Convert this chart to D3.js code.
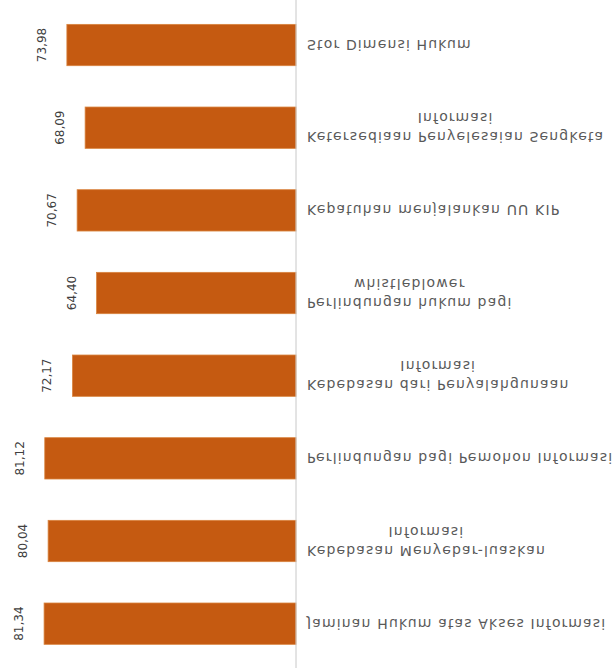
<!DOCTYPE html>
<html>
<head>
<meta charset="utf-8">
<script src="https://cdn.jsdelivr.net/npm/d3@7"></script>
<style>
  html, body { margin: 0; padding: 0; background: #ffffff; }
  svg { display: block; }
</style>
</head>
<body>
<svg id="chart" width="615" height="672"></svg>
<script>
// Categories as they appear from top to bottom (picture is vertically mirrored)
const categories = [
  ["Stor Dimensi Hukum"],
  ["Ketersediaan Penyelesaian Sengketa", "Informasi"],
  ["Kepatuhan menjalankan UU KIP"],
  ["Perlindungan hukum bagi", "whistleblower"],
  ["Kebebasan dari Penyalahgunaan", "Informasi"],
  ["Perlindungan bagi Pemohon Informasi"],
  ["Kebebasan Menyebar-luaskan", "Informasi"],
  ["Jaminan Hukum atas Akses Informasi"]
];
const values = [73.98, 68.09, 70.67, 64.40, 72.17, 81.12, 80.04, 81.34];
const valueLabels = ["73,98", "68,09", "70,67", "64,40", "72,17", "81,12", "80,04", "81,34"];

const svg = d3.select("#chart");
const axisX = 296;

const x = d3.scaleLinear().domain([0, 100]).range([axisX, axisX - 309.7]);
const y = d3.scaleBand().domain(d3.range(categories.length)).range([3.7, 665])
  .paddingInner(0.5).paddingOuter(0.25);

// bars
svg.selectAll("rect.bar")
  .data(values)
  .join("rect")
  .attr("class", "bar")
  .attr("x", d => x(d))
  .attr("y", (d, i) => y(i))
  .attr("width", d => x(0) - x(d))
  .attr("height", y.bandwidth())
  .attr("fill", "#C55A11")
  .attr("stroke", "#d9843f")
  .attr("stroke-width", 0.8);

// axis line
svg.append("line")
  .attr("x1", axisX).attr("x2", axisX)
  .attr("y1", 0).attr("y2", 668)
  .attr("stroke", "#c8c8c8")
  .attr("stroke-width", 1);

// value labels (rotated)
svg.selectAll("text.val")
  .data(values)
  .join("text")
  .attr("class", "val")
  .attr("transform", (d, i) => `translate(${x(d) - 25},${y(i) + y.bandwidth() / 2}) rotate(-90)`)
  .attr("text-anchor", "middle")
  .attr("dominant-baseline", "central")
  .attr("font-family", "DejaVu Sans, sans-serif")
  .attr("font-size", 12)
  .attr("fill", "#404040")
  .text((d, i) => valueLabels[i]);

// category labels (vertically mirrored)
const lineGap = 19;
categories.forEach((lines, i) => {
  const yc = y(i) + y.bandwidth() / 2;
  const g = svg.append("g");
  const n = lines.length;
  const texts = lines.map((s, k) => {
    // line 0 is drawn lowest because the picture is mirrored
    const off = (n === 1) ? 0 : ((n - 1) / 2 - k) * lineGap;
    return g.append("text")
      .attr("font-family", "DejaVu Sans, sans-serif")
      .attr("font-size", 14)
      .attr("letter-spacing", 1.15)
      .attr("fill", "#595959")
      .attr("dominant-baseline", "central")
      .attr("data-off", off)
      .text(s);
  });
  const widths = texts.map(t => t.node().getComputedTextLength());
  const maxW = d3.max(widths);
  texts.forEach((t, k) => {
    const off = +t.attr("data-off");
    const tx = 307 + (maxW - widths[k]) / 2;
    t.attr("transform", `translate(${tx},${yc + off}) scale(1,-1)`);
  });
});
</script>
</body>
</html>
